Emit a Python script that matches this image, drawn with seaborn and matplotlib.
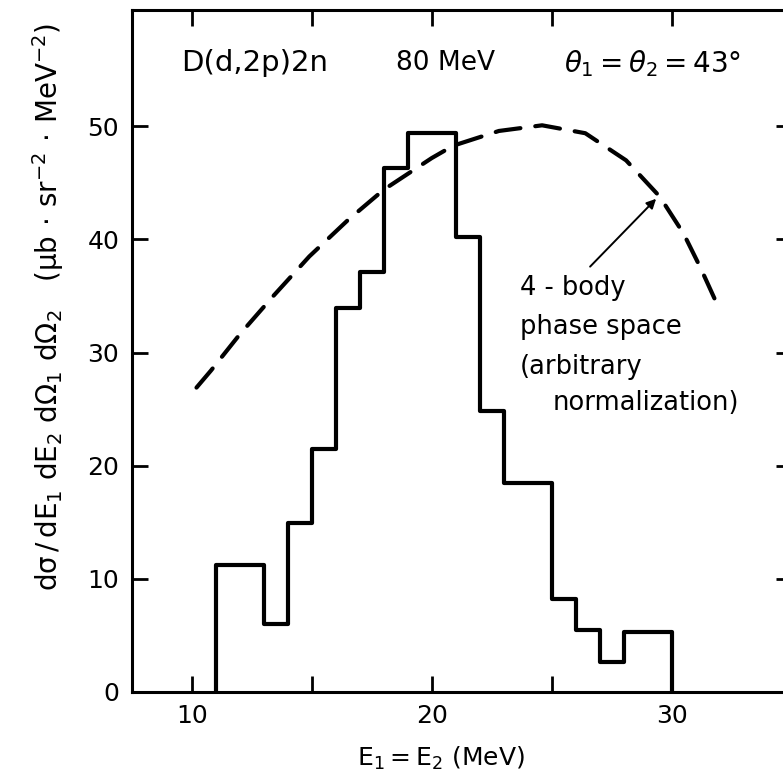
import numpy as np
import pandas as pd
import matplotlib
matplotlib.use('Agg')
import matplotlib.pyplot as plt
import seaborn as sns

# histogram bins (MeV) and cross sections
bin_edges = [11, 13, 14, 15, 16, 17, 18, 19, 21, 22, 23, 25, 26, 27, 28, 30]
bin_heights = [11.2, 6.0, 14.9, 21.5, 33.9, 37.1, 46.3, 49.4, 40.2, 24.8, 18.5, 8.2, 5.5, 2.6, 5.3]

# 4-body phase space curve (arbitrary normalization)
ps_energy = [10.2, 10.8, 12.0, 13.4, 14.9, 16.5, 18.0, 20.0, 20.9, 22.8, 24.6, 26.4, 28.1, 29.5, 30.5, 31.2, 31.8]
ps_value = [26.9, 28.4, 31.6, 35.0, 38.5, 41.7, 44.4, 47.2, 48.3, 49.6, 50.1, 49.4, 47.0, 43.8, 40.5, 37.5, 34.7]

x_ticks = [10, 15, 20, 25, 30]
x_tick_labels = ['10', '', '20', '', '30']
y_ticks = [0, 10, 20, 30, 40, 50]

sns.set_style('ticks')
plt.rcParams['font.family'] = ['DejaVu Sans']
plt.rcParams['mathtext.default'] = 'regular'
plt.rcParams['text.color'] = 'black'
plt.rcParams['axes.labelcolor'] = 'black'
plt.rcParams['xtick.color'] = 'black'
plt.rcParams['ytick.color'] = 'black'
plt.rcParams['axes.edgecolor'] = 'black'

fig = plt.figure(figsize=(7.83, 7.76), dpi=100)
ax = fig.add_axes([131.7 / 783, 84.3 / 776, 660 / 783, 681.7 / 776])

# step outline of the histogram, closed down to zero at both ends
step_df = pd.DataFrame({
    'E': [bin_edges[0]] + bin_edges,
    'h': [0] + bin_heights + [0],
})
sns.lineplot(data=step_df, x='E', y='h', sort=False, estimator=None, color='black',
             linewidth=3, drawstyle='steps-post', ax=ax)

ps_df = pd.DataFrame({'E': ps_energy, 'ps': ps_value})
sns.lineplot(data=ps_df, x='E', y='ps', sort=False, estimator=None, color='black',
             linewidth=3, ax=ax)
ax.lines[-1].set_dashes((6, 3.6))
ax.lines[-1].set_dash_capstyle('round')

ax.set_xlim(7.5, 35)
ax.set_ylim(0, 60.3)
ax.set_xticks(x_ticks)
ax.set_xticklabels(x_tick_labels)
ax.set_yticks(y_ticks)
ax.tick_params(direction='in', length=11.5, width=2, top=True, right=True,
               labelsize=18, pad=9)

for s in ax.spines.values():
    s.set_linewidth(2.2)
    s.set_visible(True)

ax.set_xlabel(r'$E_1 = E_2\ (MeV)$', fontsize=18)
ax.xaxis.set_label_coords(0.469, -0.078)
ax.set_ylabel(r'$d\sigma\,/\,dE_1\ dE_2\ d\Omega_1\ d\Omega_2\ \ \ (\mu b\,\cdot\,sr^{-2}\,\cdot\,MeV^{-2})$',
              fontsize=20)
ax.yaxis.set_label_coords(-0.1, 0.565)

ax.text(9.57, 55.6, 'D(d,2p)2n', fontsize=21, va='center', ha='left')
ax.text(18.5, 55.6, '80 MeV', fontsize=19, va='center', ha='left')
ax.text(25.5, 55.6, r'$\mathit{\theta}_1 = \mathit{\theta}_2 = 43$°', fontsize=20, va='center', ha='left')

ax.text(23.68, 35.7, '4 - body', fontsize=18.5, va='center', ha='left')
ax.text(23.68, 32.3, 'phase space', fontsize=18.5, va='center', ha='left')
ax.text(23.68, 28.7, '(arbitrary', fontsize=18.5, va='center', ha='left')
ax.text(25.05, 25.5, 'normalization)', fontsize=18.5, va='center', ha='left')
ax.annotate('', xy=(29.35, 43.6), xytext=(26.6, 37.6),
            arrowprops=dict(arrowstyle='-|>', lw=1.4, color='black', mutation_scale=14,
                            shrinkA=0, shrinkB=0))

fig.savefig('out.png', dpi=100)
